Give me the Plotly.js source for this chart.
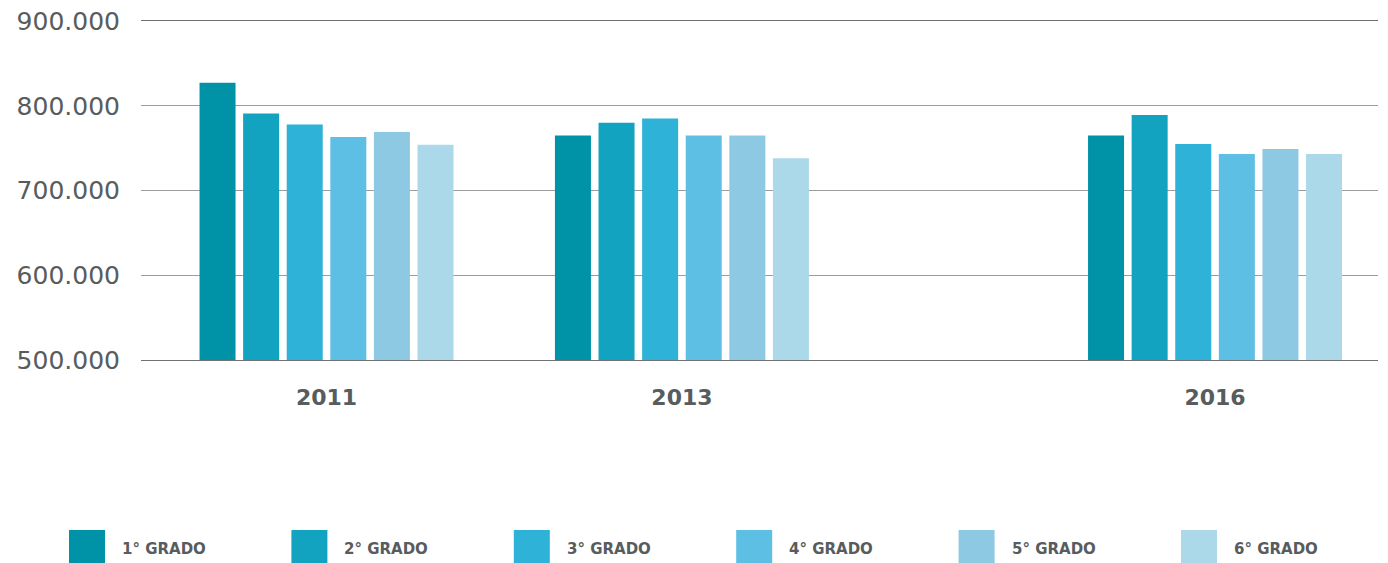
<!DOCTYPE html>
<html>
<head>
<meta charset="utf-8">
<script src="https://cdn.plot.ly/plotly-3.0.1.min.js"></script>
<style>
html,body{margin:0;padding:0;background:#fff;}
#chart{width:1388px;height:563px;}
</style>
</head>
<body>
<div id="chart"></div>
<script>
// Data
const years = [2011, 2013, 2016];
const yearLabels = ["2011", "2013", "2016"];
const seriesNames = ["1° GRADO", "2° GRADO", "3° GRADO", "4° GRADO", "5° GRADO", "6° GRADO"];
const grado1 = [827000, 765000, 765000];
const grado2 = [791000, 780000, 789000];
const grado3 = [778000, 785000, 755000];
const grado4 = [763000, 765000, 743000];
const grado5 = [769000, 765000, 749000];
const grado6 = [754000, 738000, 743000];
const yTicks = [500000, 600000, 700000, 800000, 900000];

const seriesValues = [grado1, grado2, grado3, grado4, grado5, grado6];
const colors = ["#0093a7", "#11a3c0", "#2eb2d8", "#5ebfe4", "#8dc9e3", "#abd9e9"];
const textColor = "#575c5e";

const traces = seriesNames.map((name, i) => ({
  type: "bar",
  name: name,
  x: years,
  y: seriesValues[i],
  marker: {color: colors[i], line: {width: 0}},
  hoverinfo: "x+y+name"
}));

// Custom legend (large swatches) built from names/colors
const W = 1388, H = 563;
const plotL = 141, plotR = 1378, plotT = 21, plotB = 360;
const pw = plotR - plotL, ph = plotB - plotT;
const px2x = p => (p - plotL) / pw;
const py2y = p => (plotB - p) / ph;
const shapes = [];
const annotations = [];
seriesNames.forEach((name, i) => {
  const sx = 69 + i * 222.4;
  shapes.push({
    type: "rect", xref: "paper", yref: "paper",
    x0: px2x(sx), x1: px2x(sx + 36),
    y0: py2y(563), y1: py2y(530),
    fillcolor: colors[i], line: {width: 0}
  });
  annotations.push({
    xref: "paper", yref: "paper",
    x: px2x(sx + 51), y: py2y(549),
    xanchor: "left", yanchor: "middle",
    text: name, showarrow: false,
    font: {family: "DejaVu Sans", size: 15, color: textColor, weight: 600}
  });
});

const layout = {
  width: W, height: H,
  margin: {l: plotL, r: W - plotR, t: plotT, b: H - plotB, pad: 0},
  paper_bgcolor: "#ffffff",
  plot_bgcolor: "#ffffff",
  separators: ",.",
  barmode: "group",
  bargap: 0.264,
  bargroupgap: 0.174,
  showlegend: false,
  xaxis: {
    type: "linear",
    range: [2009.956, 2016.917],
    tickvals: years,
    ticktext: yearLabels,
    ticks: "",
    showgrid: false,
    zeroline: false,
    showline: true,
    mirror: true,
    linecolor: "#6e7274",
    linewidth: 1,
    ticklabelstandoff: 18,
    tickfont: {family: "DejaVu Sans", size: 22, color: textColor, weight: "bold"}
  },
  yaxis: {
    range: [500000, 900000],
    tickvals: yTicks,
    tickformat: ",d",
    ticks: "",
    showgrid: true,
    gridcolor: "#9a9d9f",
    gridwidth: 1,
    zeroline: false,
    showline: false,
    ticklabelstandoff: 20,
    tickfont: {family: "DejaVu Sans", size: 25, color: textColor}
  },
  shapes: shapes,
  annotations: annotations
};

Plotly.newPlot("chart", traces, layout, {displayModeBar: false, staticPlot: true});
</script>
</body>
</html>
